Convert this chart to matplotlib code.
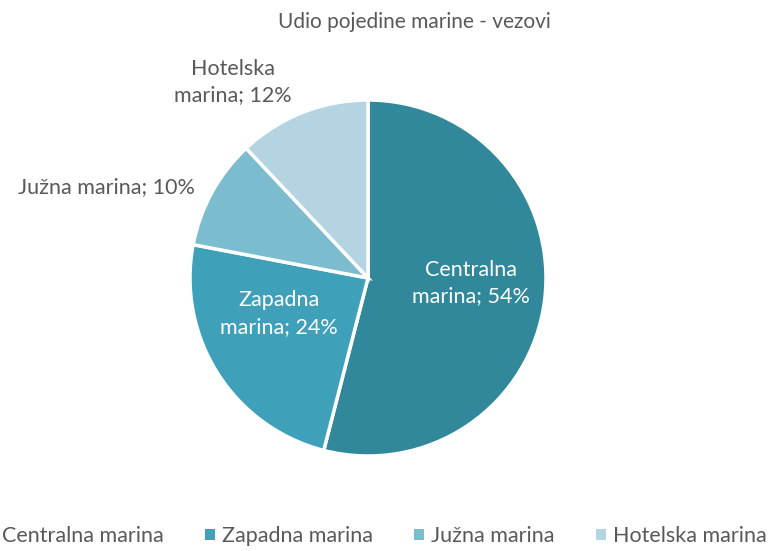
import matplotlib.pyplot as plt
import numpy as np

plt.rcParams['font.family'] = ['Lato', 'DejaVu Sans']

categories = ['Centralna marina', 'Zapadna marina', 'Južna marina', 'Hotelska marina']
shares = [54, 24, 10, 12]
label_texts = ['Centralna\nmarina; 54%', 'Zapadna\nmarina; 24%', 'Južna marina; 10%', 'Hotelska\nmarina; 12%']
colors = ['#31889a', '#3fa0b9', '#7bbccf', '#b4d4e1']
label_colors = ['white', 'white', '#595959', '#595959']
# label positions relative to pie (radius units)
label_pos = [(0.58, -0.03), (-0.50, -0.20), (-1.47, 0.51), (-0.76, 1.10)]

W, H = 781, 551
fig = plt.figure(figsize=(W / 100, H / 100), dpi=100)
cx, cy, r = 368, 278, 178
ax = fig.add_axes([(cx - r) / W, (H - cy - r) / H, 2 * r / W, 2 * r / H])

wedges, _ = ax.pie(shares, colors=colors, startangle=90, counterclock=False,
                   radius=1, wedgeprops=dict(edgecolor='white', linewidth=2.5))
ax.set_xlim(-1, 1)
ax.set_ylim(-1, 1)
ax.set_aspect('equal')
ax.axis('off')

for txt, (x, y), c in zip(label_texts, label_pos, label_colors):
    ax.text(x, y, txt, ha='center', va='center', fontsize=15.5, color=c,
            linespacing=1.4, clip_on=False)

fig.text(414 / W, 1 - 22 / H, 'Udio pojedine marine - vezovi', ha='center',
         va='center', fontsize=15, color='#595959')

leg = fig.legend(wedges, categories, loc='center', ncol=4,
                 bbox_to_anchor=(376 / W, 1 - 536 / H), frameon=False,
                 fontsize=15.5, handlelength=0.45, handleheight=0.45,
                 columnspacing=1.9, handletextpad=0.35, labelcolor='#595959')
for h in leg.legend_handles:
    h.set_edgecolor('none')

fig.savefig('out.png', dpi=100)
